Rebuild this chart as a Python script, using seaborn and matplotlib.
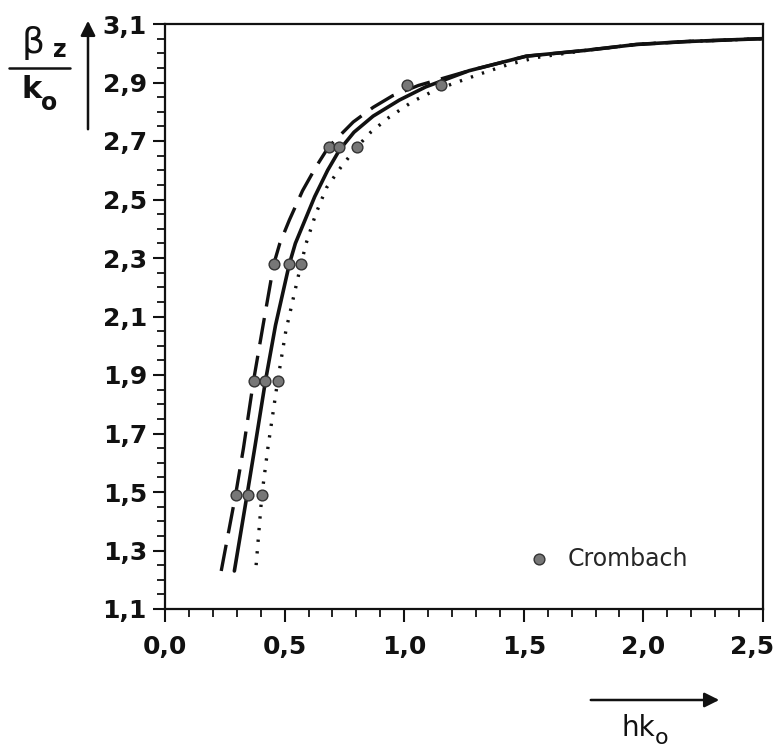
import matplotlib
matplotlib.use("Agg")
import matplotlib.pyplot as plt
import matplotlib.transforms as mtransforms
import seaborn as sns
import pandas as pd
from matplotlib.lines import Line2D
from matplotlib.ticker import MultipleLocator, FixedLocator, FixedFormatter

# ---------------- data ----------------
dashed_x = [0.235, 0.295, 0.328, 0.370, 0.410, 0.455, 0.480, 0.520, 0.575, 0.630,
            0.684, 0.787, 0.870, 0.952, 1.060, 1.270, 1.510, 1.760, 1.970, 2.180, 2.500]
dashed_y = [1.23, 1.49, 1.65, 1.88, 2.07, 2.28, 2.35, 2.43, 2.53, 2.61,
            2.68, 2.765, 2.815, 2.855, 2.89, 2.94, 2.99, 3.01, 3.03, 3.04, 3.05]

solid_x = [0.290, 0.343, 0.375, 0.420, 0.462, 0.520, 0.545, 0.626, 0.680, 0.730,
           0.790, 0.870, 0.980, 1.090, 1.270, 1.510, 1.760, 1.970, 2.180, 2.500]
solid_y = [1.23, 1.49, 1.65, 1.88, 2.07, 2.28, 2.35, 2.51, 2.60, 2.67,
           2.73, 2.785, 2.84, 2.885, 2.94, 2.99, 3.01, 3.03, 3.04, 3.05]

dotted_x = [0.381, 0.405, 0.430, 0.471, 0.505, 0.569, 0.590, 0.630, 0.675, 0.735,
            0.803, 0.860, 0.935, 1.035, 1.120, 1.200, 1.320, 1.430, 1.550, 1.760,
            1.970, 2.180, 2.500]
dotted_y = [1.25, 1.49, 1.65, 1.88, 2.05, 2.28, 2.35, 2.45, 2.54, 2.61,
            2.68, 2.73, 2.78, 2.835, 2.87, 2.895, 2.93, 2.96, 2.985, 3.01,
            3.03, 3.04, 3.05]

crombach_x = [0.295, 0.346, 0.405, 0.370, 0.419, 0.471, 0.457, 0.520, 0.569,
              0.684, 0.726, 0.803, 1.010, 1.155]
crombach_y = [1.49, 1.49, 1.49, 1.88, 1.88, 1.88, 2.28, 2.28, 2.28,
              2.68, 2.68, 2.68, 2.89, 2.89]

x_ticks = [0.0, 0.5, 1.0, 1.5, 2.0, 2.5]
x_tick_labels = ["0,0", "0,5", "1,0", "1,5", "2,0", "2,5"]
y_ticks = [1.1, 1.3, 1.5, 1.7, 1.9, 2.1, 2.3, 2.5, 2.7, 2.9, 3.1]
y_tick_labels = ["1,1", "1,3", "1,5", "1,7", "1,9", "2,1", "2,3", "2,5", "2,7", "2,9", "3,1"]
legend_label = "Crombach"

# ---------------- plot ----------------
sns.set_style("ticks")
plt.rcParams["font.family"] = ["DejaVu Sans"]

fig = plt.figure(figsize=(7.76, 7.48), dpi=100)
ax = fig.add_axes([165 / 776, 1 - 609 / 748, (763 - 165) / 776, (609 - 24) / 748])

df_dash = pd.DataFrame({"x": dashed_x, "y": dashed_y})
df_solid = pd.DataFrame({"x": solid_x, "y": solid_y})
df_dot = pd.DataFrame({"x": dotted_x, "y": dotted_y})
df_pts = pd.DataFrame({"x": crombach_x, "y": crombach_y})

sns.lineplot(data=df_dash, x="x", y="y", sort=False, estimator=None, ax=ax,
             color="#111111", linewidth=2.4, linestyle=(0, (8, 3.5)))
sns.lineplot(data=df_solid, x="x", y="y", sort=False, estimator=None, ax=ax,
             color="#111111", linewidth=2.6)
sns.lineplot(data=df_dot, x="x", y="y", sort=False, estimator=None, ax=ax,
             color="#111111", linewidth=2.4, linestyle=(0, (0.7, 2.8)))
sns.scatterplot(data=df_pts, x="x", y="y", ax=ax, s=60, color="#777777",
                edgecolor="#333333", linewidth=1.0, zorder=5, label=legend_label)

ax.set_xlim(0.0, 2.5)
ax.set_ylim(1.1, 3.1)
ax.xaxis.set_major_locator(FixedLocator(x_ticks))
ax.xaxis.set_major_formatter(FixedFormatter(x_tick_labels))
ax.xaxis.set_minor_locator(MultipleLocator(0.1))
ax.yaxis.set_major_locator(FixedLocator(y_ticks))
ax.yaxis.set_major_formatter(FixedFormatter(y_tick_labels))
ax.yaxis.set_minor_locator(MultipleLocator(0.05))
ax.set_xlabel("")
ax.set_ylabel("")

for sp in ax.spines.values():
    sp.set_visible(True)
    sp.set_color("#111111")
    sp.set_linewidth(1.6)

ax.tick_params(axis="both", which="major", direction="out", length=9, width=1.5,
               colors="#111111", labelsize=18)
ax.tick_params(axis="both", which="minor", direction="out", length=6, width=1.3,
               colors="#111111")
ax.tick_params(axis="y", which="major", pad=4)
ax.tick_params(axis="x", which="major", pad=10)

fig.canvas.draw()
for lab in ax.get_xticklabels() + ax.get_yticklabels():
    lab.set_fontweight("bold")
# last x label sits flush with the right figure edge, as in the reference
last = ax.get_xticklabels()[-1]
last.set_transform(last.get_transform() +
                   mtransforms.ScaledTranslation(-11 / 100, 0, fig.dpi_scale_trans))

leg = ax.legend(loc="center left", bbox_to_anchor=(0.59, 0.086), frameon=False,
                handlelength=0.8, handletextpad=0.8, fontsize=17, borderpad=0)

# y-axis label as fraction beta_z / k_o with upward arrow
fig.text(33 / 776, 1 - 43 / 748, "β", fontsize=26, ha="center", va="center",
         color="#111111")
fig.text(60 / 776, 1 - 50 / 748, "z", fontsize=17, ha="center", va="center",
         color="#111111", fontweight="bold")
fig.add_artist(Line2D([9 / 776, 70 / 776], [1 - 68 / 748, 1 - 68 / 748],
                      color="#111111", linewidth=1.8))
fig.text(32 / 776, 1 - 90 / 748, "k", fontsize=22, ha="center", va="center",
         color="#111111", fontweight="bold")
fig.text(49 / 776, 1 - 103 / 748, "o", fontsize=17, ha="center", va="center",
         color="#111111", fontweight="bold")
ax.annotate("", xy=(88 / 776, 1 - 18 / 748), xytext=(88 / 776, 1 - 132 / 748),
            xycoords="figure fraction", textcoords="figure fraction",
            arrowprops=dict(arrowstyle="-|>", color="#111111", lw=1.8,
                            mutation_scale=22))

# x-axis label hk_o with right arrow
ax.annotate("", xy=(722 / 776, 1 - 700 / 748), xytext=(588 / 776, 1 - 700 / 748),
            xycoords="figure fraction", textcoords="figure fraction",
            arrowprops=dict(arrowstyle="-|>", color="#111111", lw=1.8,
                            mutation_scale=22))
fig.text(638 / 776, 1 - 728 / 748, "hk", fontsize=20, ha="center", va="center",
         color="#111111")
fig.text(662 / 776, 1 - 738 / 748, "o", fontsize=16, ha="center", va="center",
         color="#111111")

fig.savefig("out.png", dpi=100, facecolor="white")
